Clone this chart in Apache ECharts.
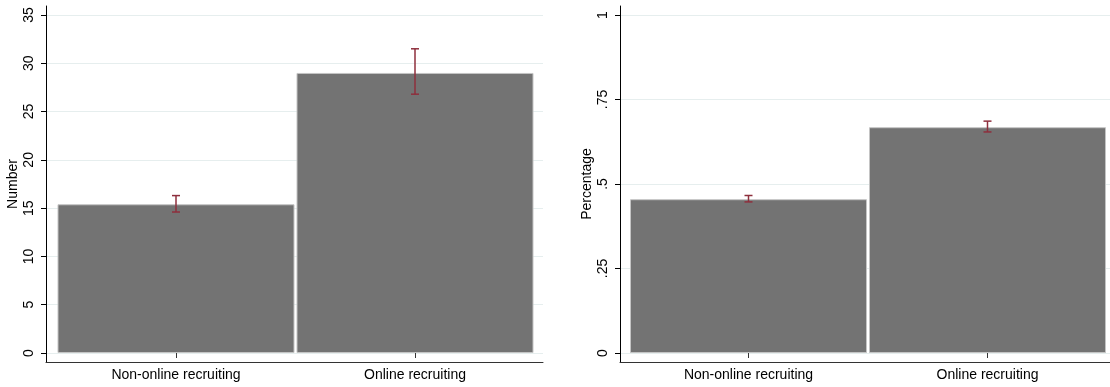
<!DOCTYPE html>
<html>
<head>
<meta charset="utf-8">
<script src="https://cdn.jsdelivr.net/npm/echarts@6/dist/echarts.min.js"></script>
<style>html,body{margin:0;padding:0;background:#fff;}#c{width:1110px;height:387px;}</style>
</head>
<body>
<div id="c"></div>
<script>
const categories = ['Non-online recruiting', 'Online recruiting'];
const numberMeans = [15.4, 29.0];
const numberLow = [14.6, 26.8];
const numberHigh = [16.3, 31.5];
const pctMeans = [0.455, 0.668];
const pctLow = [0.447, 0.654];
const pctHigh = [0.466, 0.686];
const numberTicks = [0, 5, 10, 15, 20, 25, 30, 35];
const pctTicks = [0, 0.25, 0.5, 0.75, 1];
const pctTickLabels = ['0', '.25', '.5', '.75', '1'];

const FONT = 'Liberation Sans';
const chart = echarts.init(document.getElementById('c'));

function errRender() {
  return function (params, api) {
    const i = api.value(0);
    const lo = api.coord([i, api.value(1)]);
    const hi = api.coord([i, api.value(2)]);
    const hw = 4;
    const st = { stroke: '#8e2f3d', lineWidth: 1.5 };
    return {
      type: 'group',
      children: [
        { type: 'line', shape: { x1: lo[0], y1: lo[1], x2: hi[0], y2: hi[1] }, style: st },
        { type: 'line', shape: { x1: lo[0] - hw, y1: lo[1], x2: lo[0] + hw, y2: lo[1] }, style: st },
        { type: 'line', shape: { x1: hi[0] - hw, y1: hi[1], x2: hi[0] + hw, y2: hi[1] }, style: st }
      ]
    };
  };
}

const panels = [
  { axisX: 46, right: 543, barLeft: 56.5, ymax: 35, interval: 5, name: 'Number',
    means: numberMeans, low: numberLow, high: numberHigh, fmt: v => String(v) },
  { axisX: 620, right: 1110, barLeft: 629, ymax: 1, interval: 0.25, name: 'Percentage',
    means: pctMeans, low: pctLow, high: pctHigh, fmt: v => pctTickLabels[pctTicks.indexOf(v)] }
];

const grid = [], xAxis = [], yAxis = [], series = [];
panels.forEach((p, k) => {
  const base = k * 3;
  const zeroY = 353, topY = 15;
  grid.push({ left: p.axisX, top: 6, width: p.right - p.axisX, height: 362 - 6 });
  xAxis.push({ gridIndex: base, type: 'value', min: 0, max: 1, axisLine: { show: true, lineStyle: { color: '#333', width: 1 } },
    axisTick: { show: false }, axisLabel: { show: false }, splitLine: { show: false } });
  yAxis.push({ gridIndex: base, type: 'value', min: 0, max: 1, axisLine: { show: true, lineStyle: { color: '#000', width: 1 } },
    axisTick: { show: false }, axisLabel: { show: false }, splitLine: { show: false } });
  grid.push({ left: p.axisX, top: topY, width: p.right - p.axisX, height: zeroY - topY });
  xAxis.push({ gridIndex: base + 1, type: 'value', min: 0, max: 1, show: false });
  yAxis.push({ gridIndex: base + 1, type: 'value', min: 0, max: p.ymax, interval: p.interval,
    name: p.name, nameLocation: 'middle', nameGap: 26,
    nameTextStyle: { fontFamily: FONT, fontSize: 14, color: '#000' },
    axisLine: { show: false },
    axisTick: { show: true, length: 5, lineStyle: { color: '#000' } },
    axisLabel: { rotate: 90, margin: 10, fontFamily: FONT, fontSize: 14, color: '#000', formatter: p.fmt },
    splitLine: { show: true, lineStyle: { color: '#e6eeee', width: 1 } } });
  grid.push({ left: p.barLeft, top: topY, width: 478, height: zeroY - topY });
  xAxis.push({ gridIndex: base + 2, type: 'category', data: categories, offset: 9,
    axisLine: { show: false },
    axisTick: { show: true, alignWithLabel: true, length: 5, lineStyle: { color: '#333' } },
    axisLabel: { margin: 6, fontFamily: FONT, fontSize: 14, color: '#000' } });
  yAxis.push({ gridIndex: base + 2, type: 'value', min: 0, max: p.ymax, show: false });
  series.push({ type: 'bar', xAxisIndex: base + 2, yAxisIndex: base + 2, data: p.means, barWidth: 237,
    itemStyle: { color: '#737373', borderColor: '#c4c4c4', borderWidth: 1 }, silent: true });
  series.push({ type: 'custom', xAxisIndex: base + 2, yAxisIndex: base + 2,
    data: p.means.map((m, i) => [i, p.low[i], p.high[i]]), renderItem: errRender(), z: 5, silent: true });
});

chart.setOption({ animation: false, backgroundColor: '#fff', grid, xAxis, yAxis, series });
</script>
</body>
</html>
